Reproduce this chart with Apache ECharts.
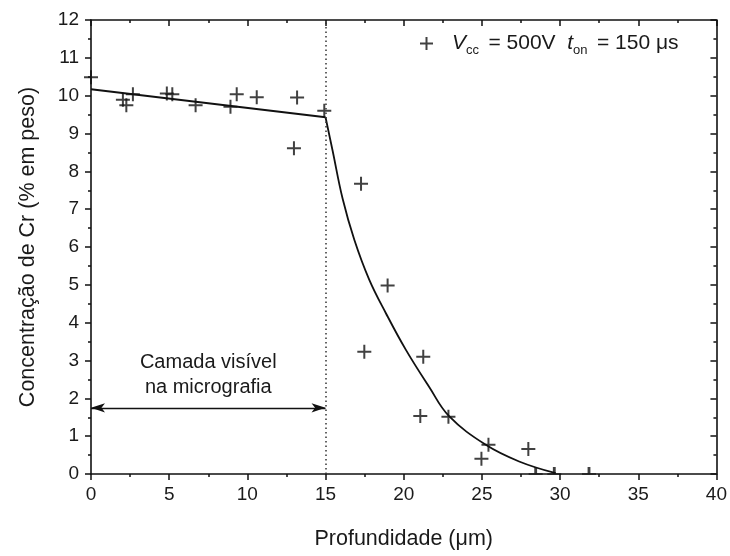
<!DOCTYPE html>
<html><head><meta charset="utf-8">
<script src="https://cdn.jsdelivr.net/npm/echarts@6/dist/echarts.min.js"></script>
<style>html,body{margin:0;padding:0;background:#fff}#c{width:730px;height:556px}</style>
</head><body><div id="c"></div>
<script>
// measured points: depth (µm) and Cr concentration (% em peso)
const depth = [0, 2.04, 2.26, 2.68, 4.85, 5.2, 6.69, 8.92, 9.32, 10.6, 12.98, 13.18, 14.92, 17.27, 17.48, 18.97, 21.06, 21.25, 22.86, 24.97, 25.42, 27.97];
const conc  = [10.49, 9.89, 9.75, 10.04, 10.06, 10.04, 9.75, 9.71, 10.04, 9.96, 8.61, 9.95, 9.6, 7.67, 3.23, 4.98, 1.53, 3.10, 1.51, 0.40, 0.77, 0.66];
// points lying on the x axis (only upper half visible)
const edgeDepth = [28.44, 29.63, 31.85];
const edgeConc  = [0, 0, 0];
// fitted curve
const fitLeftX = [0, 15];
const fitLeftY = [10.17, 9.43];
const fitX = [15, 15.45, 16.09, 16.84, 17.8, 18.86, 20.14, 21.63, 22.9, 25.25, 27.38, 29.72];
const fitY = [9.43, 8.55, 7.28, 6.19, 5.13, 4.25, 3.28, 2.30, 1.53, 0.77, 0.33, 0.02];
// axes
const xTicks = [0, 5, 10, 15, 20, 25, 30, 35, 40];
const yTicks = [0, 1, 2, 3, 4, 5, 6, 7, 8, 9, 10, 11, 12];
const layerDepth = 15;
const arrowLevel = 1.75;

const zip = (a, b) => a.map((v, i) => [v, b[i]]);
const plus = 'path://M5,0L5,10M0,5L10,5';
const halfPlus = 'path://M5,0L5,5M0,5L10,5';
const font = '"Liberation Sans", Arial, sans-serif';
const txt = '#1a1a1a';

const chart = echarts.init(document.getElementById('c'), null, {renderer: 'canvas'});

const axisLine = {show: true, onZero: false, lineStyle: {color: '#111', width: 1.6}};
const mkX = (pos, inside, labels) => ({
  type: 'value', position: pos, min: xTicks[0], max: xTicks[xTicks.length - 1], interval: 5,
  axisLine: axisLine,
  axisTick: {show: true, inside: inside, length: 6, lineStyle: {color: '#111', width: 1.5}},
  minorTick: {show: true, splitNumber: 2, length: 3, lineStyle: {color: '#111', width: 1.5}},
  axisLabel: {show: labels, fontSize: 19, color: txt, fontFamily: font, margin: 11},
  splitLine: {show: false}, minorSplitLine: {show: false},
  name: labels ? 'Profundidade (\u03bcm)' : '', nameLocation: 'middle', nameGap: 54,
  nameTextStyle: {fontSize: 21.5, color: txt, fontFamily: font}
});
const mkY = (pos, inside, labels) => ({
  type: 'value', position: pos, min: yTicks[0], max: yTicks[yTicks.length - 1], interval: 1,
  axisLine: axisLine,
  axisTick: {show: true, inside: inside, length: 6, lineStyle: {color: '#111', width: 1.5}},
  minorTick: {show: true, splitNumber: 2, length: 3, lineStyle: {color: '#111', width: 1.5}},
  axisLabel: {show: labels, fontSize: 19, color: txt, fontFamily: font, margin: 12},
  splitLine: {show: false}, minorSplitLine: {show: false},
  name: labels ? 'Concentra\u00e7\u00e3o de Cr (% em peso)' : '', nameLocation: 'middle', nameGap: 52,
  nameTextStyle: {fontSize: 21.5, color: txt, fontFamily: font}
});

const markerStyle = {color: 'transparent', borderColor: '#111', borderWidth: 2};

chart.setOption({
  animation: false,
  backgroundColor: '#fff',
  grid: {left: 91, right: 12.5, top: 20, bottom: 82},
  xAxis: [mkX('bottom', false, true), mkX('top', true, false)],
  yAxis: [mkY('left', false, true), mkY('right', true, false)],
  legend: {
    left: 414, top: 28, itemWidth: 13, itemHeight: 13,
    data: [{name: 'pts', icon: plus}],
    itemStyle: markerStyle,
    formatter: () => '{g|}{i|V}{s|cc }{n| = 500V  }{i|t}{s|on }{n| = 150 \u03bcs}',
    textStyle: {
      fontFamily: font, color: txt, fontSize: 21,
      rich: {
        g: {width: 14},
        i: {fontSize: 21, fontStyle: 'italic', fontFamily: font, color: txt},
        n: {fontSize: 21, fontFamily: font, color: txt},
        s: {fontSize: 13, fontFamily: font, color: txt, padding: [13, 0, 0, 0]}
      }
    }
  },
  series: [
    {
      name: 'fitLeft', type: 'line', data: zip(fitLeftX, fitLeftY), showSymbol: false,
      lineStyle: {color: '#111', width: 1.8}, silent: true,
      markLine: {
        silent: true, symbol: ['none', 'none'],
        lineStyle: {type: [1.5, 3], color: '#333', width: 1.5},
        label: {show: false},
        data: [{xAxis: layerDepth}]
      }
    },
    {
      name: 'fit', type: 'line', data: zip(fitX, fitY), showSymbol: false, smooth: 0.4,
      lineStyle: {color: '#111', width: 1.8}, silent: true,
      markLine: {
        silent: true, symbol: ['arrow', 'arrow'], symbolSize: [7, 14],
        lineStyle: {type: 'solid', color: '#111', width: 1.3},
        label: {
          show: true, position: 'middle', distance: 8,
          formatter: 'Camada vis\u00edvel\nna micrografia',
          fontSize: 20, lineHeight: 25, color: txt, fontFamily: font
        },
        data: [[{coord: [0, arrowLevel]}, {coord: [layerDepth, arrowLevel]}]]
      }
    },
    {
      name: 'pts', type: 'scatter', data: zip(depth, conc), symbol: plus, symbolSize: 14,
      itemStyle: markerStyle, clip: false
    },
    {
      name: 'edge', type: 'scatter', data: zip(edgeDepth, edgeConc), symbol: halfPlus,
      symbolSize: [14, 7], symbolOffset: [0, -3.5], itemStyle: markerStyle, clip: false
    }
  ]
});
</script></body></html>
